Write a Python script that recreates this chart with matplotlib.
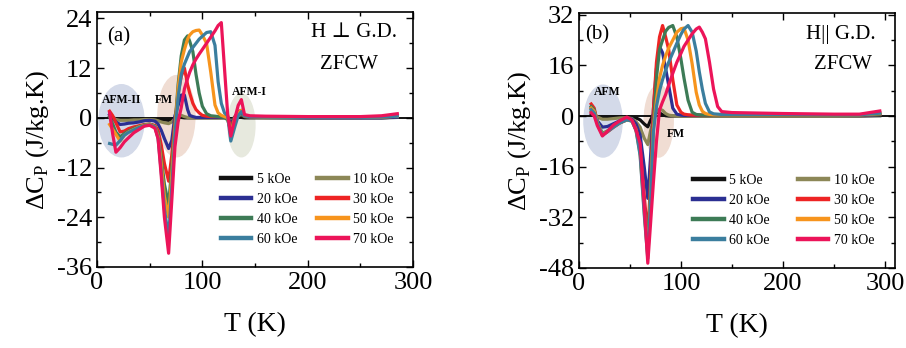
import numpy as np
import matplotlib
matplotlib.use("Agg")
import matplotlib.pyplot as plt
from matplotlib.patches import Ellipse

plt.rcParams['font.family'] = ['Liberation Serif', 'DejaVu Serif']
plt.rcParams['mathtext.fontset'] = 'custom'
plt.rcParams['mathtext.rm'] = 'Liberation Serif'
plt.rcParams['axes.unicode_minus'] = False

# Campos y colores
labels = ["5 kOe", "10 kOe", "20 kOe", "30 kOe", "40 kOe", "50 kOe", "60 kOe", "70 kOe"]
colors = ["#111111", "#8c8757", "#2b2f92", "#ee2424", "#3d7b56", "#f7941d", "#3b7e9e", "#ec1459"]

# Panel (a): H perpendicular G.D.
T_a = [12, 15, 18, 22, 26, 30, 35, 40, 45, 50,
       55, 58, 61, 64, 68, 71, 74, 77, 80, 83,
       86, 88, 91, 94, 97, 100, 104, 108, 112, 115,
       118, 121, 124, 127, 131, 134, 137, 140, 145, 160,
       200, 250, 270, 285]
a_5 = [0.2, 0, -0.2, -0.3, -0.3, -0.3, -0.3, -0.3, -0.2, -0.2,
       -0.2, -0.3, -0.4, -0.5, -0.6, -0.4, 0, 0.1, 0.1, 0,
       0, 0, 0, 0, 0, 0, 0, 0, 0, 0,
       0, 0, 0, -0.3, 0, 0.2, 0.1, 0, 0, 0,
       0, 0, 0, 0.1]
a_10 = [0.5, 0, -0.4, -0.6, -0.6, -0.6, -0.5, -0.5, -0.4, -0.4,
        -0.5, -0.7, -1.0, -1.2, -1.4, -1.0, -0.2, 0.5, 0.6, 0.3,
        0.1, 0, 0, 0, 0, 0, 0, 0, 0, 0,
        0, 0, 0, -0.8, 0, 0.5, 0.8, 0.3, 0.1, 0,
        0, 0, 0, 0.2]
a_20 = [0.8, 0, -1.0, -1.6, -1.5, -1.3, -1.2, -1.0, -0.7, -0.6,
        -0.8, -1.5, -3.0, -5.0, -7.4, -5.5, 0.5, 3.0, 5.5, 5.5,
        2.0, 0.6, 0.3, 0.1, 0.1, 0.1, 0.1, 0.1, 0.1, 0.1,
        0.1, 0.1, 0.1, -1.5, 0.3, 1.0, 1.2, 0.4, 0.2, 0.1,
        0, 0, 0, 0.2]
a_30 = [1.6, 0.5, -1.2, -3.4, -3.2, -2.6, -2.2, -1.9, -1.6, -1.5,
        -1.8, -3.0, -6.5, -11, -15.3, -9, -1, 6, 10, 12,
        8, 6, 3.5, 2, 1.2, 0.6, 0.4, 0.3, 0.3, 0.3,
        0.3, 0.3, 0.2, -2.5, 0.3, 1.5, 1.8, 0.5, 0.3, 0.2,
        0.1, 0.1, 0.2, 0.4]
a_40 = [0.2, -1.5, -3.5, -4.6, -3.8, -3.2, -2.6, -2.1, -1.7, -1.5,
        -2.0, -4.0, -9.5, -16, -21, -12, -2, 8, 15, 18.8,
        19.8, 18.5, 16, 10.5, 6, 2.8, 1.0, 0.5, 0.4, 0.3,
        0.2, 0.1, -0.5, -3, 0.2, 1.2, 1.8, 0.5, 0.3, 0.2,
        0.1, 0.1, 0.2, 0.4]
a_50 = [-1.6, -2.8, -4.0, -5.6, -4.2, -3.4, -2.8, -2.2, -1.8, -1.6,
        -2.1, -4.5, -11, -19, -24, -14, -3, 7, 13.5, 16.5,
        19, 20, 20.8, 21.1, 21.2, 20, 18, 11, 3.1, 1.2,
        0.6, 0.3, 0, -3.5, 0, 1.2, 1.8, 0.5, 0.3, 0.2,
        0.1, 0.1, 0.2, 0.4]
a_60 = [-6.2, -6.4, -6.6, -5.5, -4.2, -3.5, -2.9, -2.3, -1.9, -1.7,
        -2.2, -5.0, -13, -22, -29, -17, -4, 5, 10.5, 13,
        14.8, 16, 17, 18, 19, 19.7, 20.6, 20.8, 17.5, 8.7,
        3.5, 1.2, 0.5, -5.6, -2, 0.5, 1.5, 0.5, 0.3, 0.2,
        0.1, 0.1, 0.2, 0.4]
a_70 = [1.2, -4, -8.3, -7.2, -5.8, -4.8, -3.6, -2.8, -2.0, -1.8,
        -2.5, -5, -14, -24, -32.7, -20, -7, -1, 2.5, 7,
        9.5, 11, 12.8, 14.2, 15.4, 16.5, 18, 19.5, 21, 22.3,
        23, 12, 1, -4.4, 0, 3, 4.4, 0.8, 0.5, 0.4,
        0.3, 0.3, 0.5, 1.0]

# Panel (b): H paralelo G.D.
T_b = [12, 15, 18, 23, 28, 34, 40, 47, 52, 56,
       60, 64, 67.5, 70, 73, 76, 79, 82, 85, 88,
       92, 96, 100, 103, 107, 111, 115, 118, 121, 124,
       128, 132, 136, 140, 150, 200, 250, 275, 295]
b_5 = [0.5, 0.2, -0.3, -0.6, -0.5, -0.4, -0.3, -0.3, -0.4, -0.6,
       -1.2, -2.5, -3.4, -1.5, 0.5, 1.2, 1.0, 0.4, 0.1, 0,
       0, 0, 0, 0, 0, 0, 0, 0, 0, 0,
       0, 0, 0, 0, 0, 0, 0, 0, 0.1]
b_10 = [1.5, 0.8, -0.3, -1.0, -1.0, -0.8, -0.6, -0.5, -0.8, -1.8,
        -3.5, -7, -9, -5, -1, 1.5, 2.2, 1.8, 0.8, 0.3,
        0.1, 0, 0, 0, 0, 0, 0, 0, 0, 0,
        0, 0, 0, 0, 0, 0, 0, 0.1, 0.4]
b_20 = [2.5, 1.5, -1.5, -3.5, -3.3, -2.4, -1.5, -0.8, -1.0, -2.5,
        -6, -16, -26, -14, 2, 15, 22, 20, 15, 9.7,
        2.5, 0.6, 0.3, 0.2, 0.2, 0.2, 0.2, 0.2, 0.2, 0.2,
        0.2, 0.2, 0.2, 0.2, 0.2, 0.2, 0.2, 0.2, 0.5]
b_30 = [3.8, 2.5, -2, -6, -5, -3.5, -2.2, -1.2, -1.5, -4,
        -10, -25, -38, -22, 2, 17, 25, 28.6, 25, 21,
        11.5, 3.5, 1.2, 0.6, 0.4, 0.3, 0.3, 0.3, 0.3, 0.3,
        0.3, 0.3, 0.3, 0.3, 0.3, 0.3, 0.3, 0.3, 0.6]
b_40 = [3, 2, -2, -5.5, -4.7, -3.3, -2.1, -1.2, -1.5, -4.2,
        -11, -28, -42, -25, -3, 12, 21, 24, 26.8, 28,
        28.6, 25, 18, 12, 5, 1.2, 0.5, 0.4, 0.3, 0.3,
        0.3, 0.3, 0.3, 0.3, 0.3, 0.3, 0.3, 0.3, 0.6]
b_50 = [2.5, 1.5, -2, -5.8, -4.8, -3.4, -2.1, -1.2, -1.6, -4.5,
        -12, -30, -44, -27, -4, 5, 12, 16, 19, 21.5,
        24, 26.5, 27.6, 27.8, 24, 16.5, 7.5, 3.5, 1.5, 0.8,
        0.5, 0.4, 0.4, 0.4, 0.4, 0.4, 0.4, 0.4, 0.8]
b_60 = [2, 1, -2.2, -6, -4.9, -3.5, -2.2, -1.2, -1.6, -4.6,
        -12.5, -31, -45, -28, -5, 3, 8, 11.5, 14.5, 17,
        20, 23, 25.8, 27.5, 28.6, 26.5, 20.5, 14, 8.5, 4,
        1.3, 0.7, 0.6, 0.5, 0.5, 0.5, 0.4, 0.4, 0.9]
b_70 = [1, 0, -3, -6.3, -4.8, -2.8, -1.5, -0.3, -1.3, -4.5,
        -8.6, -28, -46.5, -35, -21, -8, 1.9, 4.5, 6.8, 9.8,
        13.5, 17, 19.8, 22, 24, 26, 27.5, 28.1, 26.5, 24.4,
        17, 8.5, 3, 1.4, 1.1, 0.8, 0.6, 0.6, 1.6]

series_a = [a_5, a_10, a_20, a_30, a_40, a_50, a_60, a_70]
series_b = [b_5, b_10, b_20, b_30, b_40, b_50, b_60, b_70]

fig = plt.figure(figsize=(9.06, 3.48), dpi=100)
ax1 = fig.add_axes([0.107, 0.233, 0.349, 0.733])
ax2 = fig.add_axes([0.639, 0.230, 0.349, 0.733])


def estilo(ax, ylim, yticks, ymin):
    ax.set_xlim(0, 300 if ax is ax1 else 310)
    ax.set_ylim(*ylim)
    ax.set_xticks([0, 100, 200, 300])
    ax.set_xticks([50, 150, 250], minor=True)
    ax.set_yticks(yticks)
    ax.set_yticks(ymin, minor=True)
    ax.tick_params(which='both', direction='in', top=True, right=True, labelsize=19, width=1.0)
    ax.tick_params(which='major', length=5)
    ax.tick_params(which='minor', length=3)
    for s in ax.spines.values():
        s.set_linewidth(1.2)
    ax.axhline(0, color='k', lw=1.3, zorder=1)
    ax.set_xlabel("T (K)", fontsize=20, labelpad=13)
    ax.set_ylabel(r"$\Delta$C$_\mathregular{P}$ (J/kg.K)", fontsize=19, labelpad=4)


def leyenda(ax, x, colsp):
    # orden por filas: 5,10 / 20,30 / 40,50 / 60,70
    h, l = ax.get_legend_handles_labels()
    orden = [0, 2, 4, 6, 1, 3, 5, 7]
    leg = ax.legend([h[i] for i in orden], [l[i] for i in orden], ncol=2, frameon=False,
                    loc='upper left', bbox_to_anchor=(x, 0.368), fontsize=10,
                    handlelength=2.2, handletextpad=0.4, columnspacing=colsp,
                    labelspacing=0.5, borderpad=0, borderaxespad=0)
    for ln in leg.get_lines():
        ln.set_linewidth(3.2)


# Panel (a)
for e in [Ellipse((23.3, -0.7), 42.7, 17.4, color='#d4dae9'),
          Ellipse((75.4, 0.4), 35.1, 19.6, color='#f0ddd3'),
          Ellipse((137.1, -1.8), 25.6, 15.2, color='#e7e9de')]:
    e.set_zorder(0)
    ax1.add_patch(e)
for y, c, l in zip(series_a, colors, labels):
    ax1.plot(T_a, y, color=c, lw=2.3, label=l, zorder=2)
estilo(ax1, (-36, 25.6), [-36, -24, -12, 0, 12, 24], np.arange(-30, 25, 12))
ax1.text(0.032, 0.90, "(a)", transform=ax1.transAxes, fontsize=15, va='center')
ax1.text(0.813, 0.92, "H \u22a5 G.D.", transform=ax1.transAxes, fontsize=15, ha='center', va='center')
ax1.text(0.797, 0.792, "ZFCW", transform=ax1.transAxes, fontsize=15, ha='center', va='center')
ax1.text(23.7, 4.4, "AFM-II", fontsize=8.5, fontweight='bold', ha='center', va='center')
ax1.text(63.6, 4.4, "FM", fontsize=8.5, fontweight='bold', ha='center', va='center')
ax1.text(144.7, 6.3, "AFM-I", fontsize=8.5, fontweight='bold', ha='center', va='center')
leyenda(ax1, 0.392, 1.4)

# Panel (b)
for e in [Ellipse((23.6, -1.6), 37.4, 22.7, color='#d4dae9'),
          Ellipse((78.2, -1.6), 28.5, 22.7, color='#f0ddd3')]:
    e.set_zorder(0)
    ax2.add_patch(e)
for y, c, l in zip(series_b, colors, labels):
    ax2.plot(T_b, y, color=c, lw=2.3, label=l, zorder=2)
estilo(ax2, (-48, 32.6), [-48, -32, -16, 0, 16, 32], np.arange(-40, 33, 16))
ax2.text(0.019, 0.914, "(b)", transform=ax2.transAxes, fontsize=15, va='center')
ax2.text(0.829, 0.914, "H|| G.D.", transform=ax2.transAxes, fontsize=15, ha='center', va='center')
ax2.text(0.835, 0.796, "ZFCW", transform=ax2.transAxes, fontsize=15, ha='center', va='center')
ax2.text(28, 7.6, "AFM", fontsize=8.5, fontweight='bold', ha='center', va='center')
ax2.text(95.4, -5.7, "FM", fontsize=8.5, fontweight='bold', ha='center', va='center')
leyenda(ax2, 0.361, 2.0)

plt.savefig("out.png", dpi=100)
